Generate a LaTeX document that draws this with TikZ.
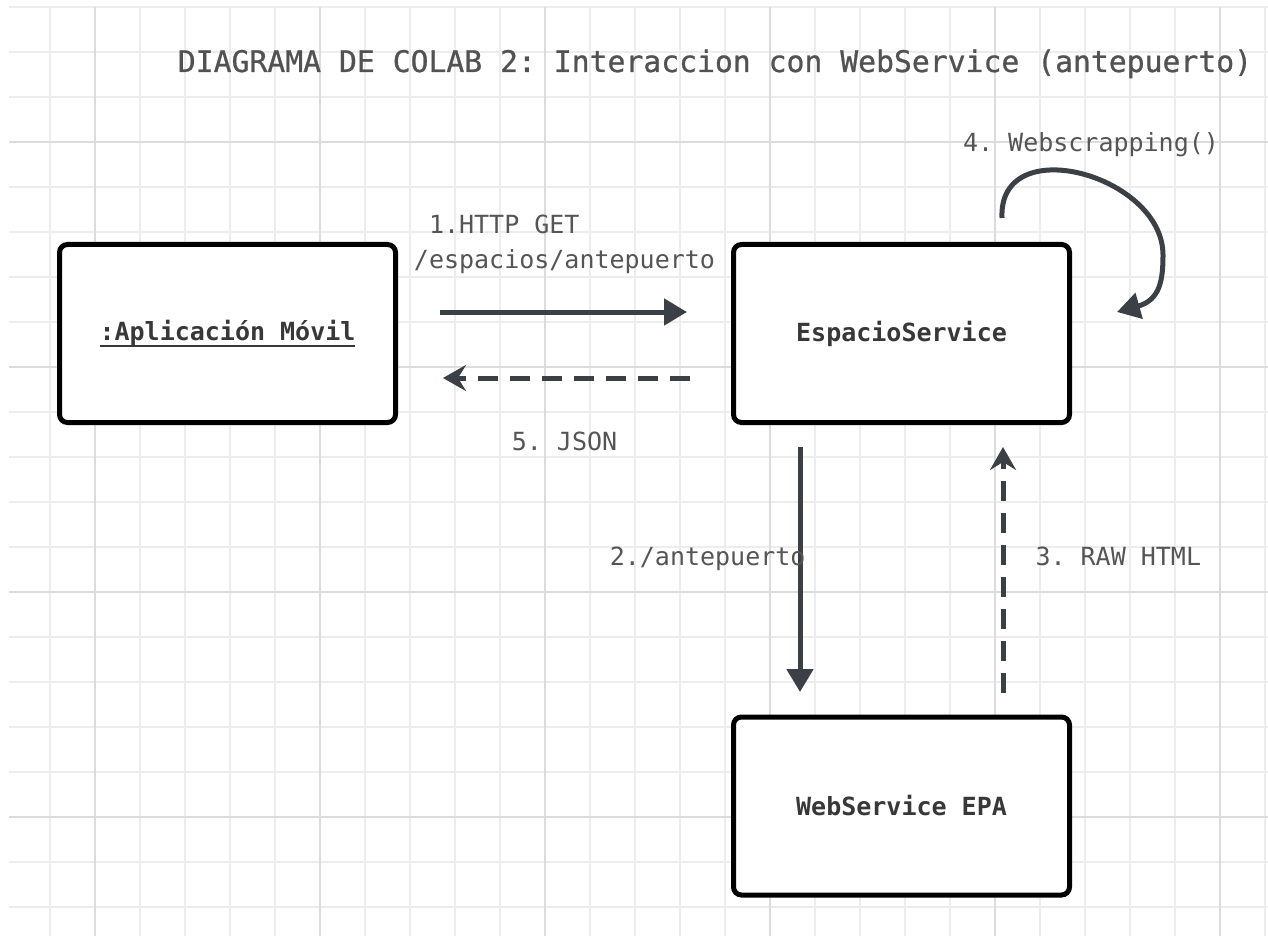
\documentclass[tikz,border=0pt]{standalone}
\usepackage{fontspec}
\setmonofont{DejaVu Sans Mono}
\usetikzlibrary{arrows.meta,positioning}

\definecolor{gridminor}{HTML}{EDEDED}
\definecolor{gridmajor}{HTML}{DCDCDC}
\definecolor{ink}{HTML}{3B3F46}
\definecolor{labelgray}{HTML}{555555}

% underline drawn a bit heavier than \underline
\newcommand\undertext[1]{\setbox0=\hbox{#1}\rlap{\rule[-3.5pt]{\wd0}{1pt}}\box0}

\begin{document}
\begin{tikzpicture}[
    x = 0.5pt, y = -0.5pt, % one unit per pixel, y grows downwards
    line cap = butt,
    semithick % line style
    ]

    \tikzset{
    box/.style = {draw = black, line width = 2.5pt, rounded corners = 4pt,
        fill = white, minimum width = 168pt, minimum height = 89pt,
        font = \ttfamily\bfseries\fontsize{12.5}{15}\selectfont, text = black!78},
    msg/.style = {draw = ink, line width = 2.5pt,
        -{Triangle[length = 11.5pt, width = 13pt]}},
    reply/.style = {draw = ink, line width = 2.5pt, dash pattern = on 10pt off 6pt,
        -{Stealth[length = 11.5pt, width = 13pt, inset = 4pt]}},
    lbl/.style = {font = \ttfamily\fontsize{12.5}{17.5}\selectfont,
        text = labelgray, inner sep = 0pt},
    title/.style = {font = \ttfamily\fontsize{14.87}{18}\selectfont\addfontfeature{FakeBold=0.8},
        text = black!68, inner sep = 0pt}
    }

    % canvas
    \useasboundingbox (0,0) rectangle (1268,936);
    \fill[white] (0,0) rectangle (1268,936);

    % background grid
    \foreach \gx in {50,95,...,1265}
        \draw[gridminor, line width = 0.75pt] (\gx,7) -- (\gx,936);
    \foreach \gy in {7,52,...,907}
        \draw[gridminor, line width = 0.75pt] (9,\gy) -- (1268,\gy);
    \foreach \gx in {95,320,...,1220}
        \draw[gridmajor, line width = 1pt] (\gx,7) -- (\gx,936);
    \foreach \gy in {142,367,592,817}
        \draw[gridmajor, line width = 1pt] (9,\gy) -- (1268,\gy);

    \node[title, anchor = base] (title) at (715,72)
        {DIAGRAMA DE COLAB 2: Interaccion con WebService (antepuerto)};

    \node[box] (app) at (227.5,333.5) {\undertext{:Aplicación Móvil}};
    \node[box] (esp) [right = 166.5pt of app] {EspacioService};
    \node[box] (epa) [below = 144.75pt of esp] {WebService EPA};

    % 1. request and 5. answer
    \draw[msg, shorten < = 21pt, shorten > = 22pt]
        ([yshift = 10.75pt]app.east) -- ([yshift = 10.75pt]esp.west)
        node[lbl, midway, above = 18pt, align = left]
        {~1.HTTP GET\\/espacios/antepuerto};
    \draw[reply, shorten < = 20.5pt, shorten > = 22.5pt]
        ([yshift = -22.25pt]esp.west) -- ([yshift = -22.25pt]app.east)
        node[lbl, midway, below = 25.5pt] {5. JSON};

    % 2. call to the web service and 3. its raw page
    \draw[msg, shorten < = 11pt, shorten > = 11.25pt]
        ([xshift = -50.75pt]esp.south) -- ([xshift = -50.75pt]epa.north)
        node[lbl, midway, anchor = east, xshift = 4pt, yshift = 5.5pt] {2./antepuerto};
    \draw[reply, shorten < = 10.75pt, shorten > = 11pt]
        ([xshift = 50.75pt]epa.north) -- ([xshift = 50.75pt]esp.south)
        node[lbl, midway, anchor = west, xshift = 15pt, yshift = 6.5pt] {3. RAW HTML};

    % 4. self call, looping over the top right corner
    \coordinate (loopside) at ([xshift = 45.5pt, yshift = -6.5pt]esp.north east);
    \draw[msg]
        ([xshift = 50.25pt, yshift = 12pt]esp.north)
        .. controls +(-2pt,44pt) and +(0pt,40pt) .. (loopside)
        .. controls +(0pt,-12.5pt) and +(21.5pt,6pt) ..
        ([xshift = 22.5pt, yshift = 10.75pt]esp.east);
    \node[lbl, anchor = base] (scrap) at ([xshift = 94.75pt, yshift = 45pt]esp.north)
        {4. Webscrapping()};
\end{tikzpicture}
\end{document}
